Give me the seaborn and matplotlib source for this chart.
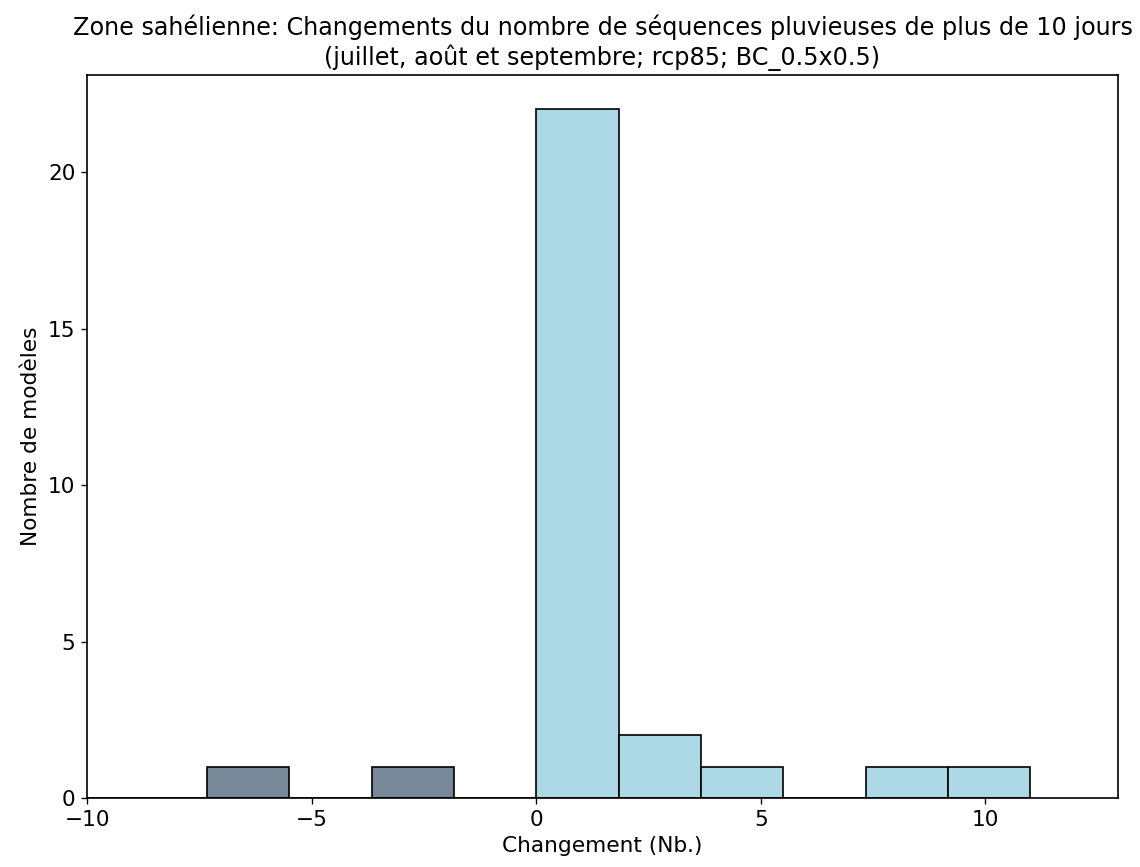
import numpy as np
import pandas as pd
import matplotlib
matplotlib.use("Agg")
import matplotlib.pyplot as plt
import seaborn as sns

# Bin edges (12 equal bins from -11 to 11) and model counts per bin
bin_edges = [-11 + i * 22 / 12 for i in range(13)]
counts = [0, 0, 1, 0, 1, 0, 22, 2, 1, 0, 1, 1]

title = ("Zone sahélienne: Changements du nombre de séquences pluvieuses de plus de 10 jours\n"
         "(juillet, août et septembre; rcp85; BC_0.5x0.5)")
xlabel = "Changement (Nb.)"
ylabel = "Nombre de modèles"
neg_color = "#778899"
pos_color = "#ADD8E6"

centers = [(bin_edges[i] + bin_edges[i + 1]) / 2 for i in range(12)]
df = pd.DataFrame({"centre": centers, "n": counts})
neg = df[df["centre"] < 0]
pos = df[df["centre"] >= 0]

plt.rcParams["font.family"] = ["DejaVu Sans"]
plt.rcParams["font.size"] = 13
plt.rcParams["axes.linewidth"] = 1.0
fig, ax = plt.subplots(figsize=(9.5, 7.225), dpi=120)
fig.subplots_adjust(left=87/1140, right=1118/1140, top=1-75/867, bottom=1-798/867)

sns.histplot(x=neg["centre"].to_numpy(), weights=neg["n"].to_numpy(), bins=list(bin_edges[:7]),
             color=neg_color, alpha=1, edgecolor="black", linewidth=1, ax=ax)
sns.histplot(x=pos["centre"].to_numpy(), weights=pos["n"].to_numpy(), bins=list(bin_edges[6:]),
             color=pos_color, alpha=1, edgecolor="black", linewidth=1, ax=ax)

ax.set_xlim(-10, 12.95)
ax.set_ylim(0, 23.1)
ax.set_xticks([-10, -5, 0, 5, 10])
ax.set_yticks([0, 5, 10, 15, 20])
ax.tick_params(labelsize=13)
ax.set_title(title, fontsize=14.3)
ax.set_xlabel(xlabel, fontsize=13)
ax.set_ylabel(ylabel, fontsize=13)

fig.savefig("out.png", dpi=120)
